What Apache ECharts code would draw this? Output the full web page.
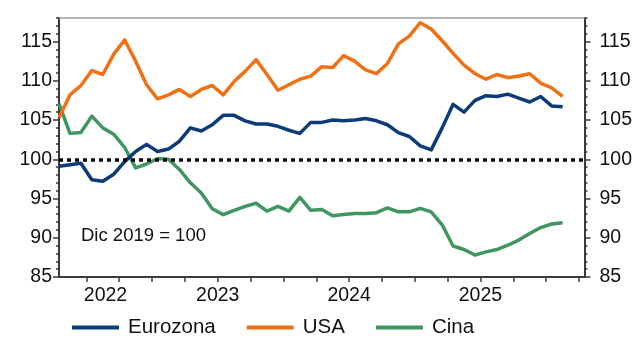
<!DOCTYPE html>
<html>
<head>
<meta charset="utf-8">
<script src="https://cdn.jsdelivr.net/npm/echarts@6/dist/echarts.min.js"></script>
<style>
  html, body { margin: 0; padding: 0; background: #ffffff; }
  #chart { width: 635px; height: 338px; }
</style>
</head>
<body>
<div id="chart"></div>
<script>
// Monthly index values, base Dec 2019 = 100
const months = [
  '2022-04', '2022-05', '2022-06', '2022-07', '2022-08', '2022-09', '2022-10', '2022-11', '2022-12',
  '2023-01', '2023-02', '2023-03', '2023-04', '2023-05', '2023-06', '2023-07', '2023-08', '2023-09', '2023-10', '2023-11', '2023-12',
  '2024-01', '2024-02', '2024-03', '2024-04', '2024-05', '2024-06', '2024-07', '2024-08', '2024-09', '2024-10', '2024-11', '2024-12',
  '2025-01', '2025-02', '2025-03', '2025-04', '2025-05', '2025-06', '2025-07', '2025-08', '2025-09', '2025-10', '2025-11', '2025-12',
  '2026-01', '2026-02'
];

const eurozona = [
  99.1, 99.3, 99.5, 97.4, 97.2, 98.1, 99.7, 101.0, 101.9, 101.0,
  101.3, 102.3, 104.0, 103.6, 104.4, 105.6, 105.6, 104.9, 104.5, 104.5,
  104.2, 103.7, 103.3, 104.7, 104.7, 105.0, 104.9, 105.0, 105.2, 104.9,
  104.4, 103.4, 102.9, 101.7, 101.2, 104.0, 107.0, 106.0, 107.5, 108.1,
  108.0, 108.3, 107.8, 107.3, 108.0, 106.8, 106.7
];

const usa = [
  105.3, 108.2, 109.4, 111.3, 110.8, 113.4, 115.2, 112.5, 109.5, 107.7,
  108.2, 108.9, 108.0, 108.9, 109.4, 108.2, 109.9, 111.2, 112.7, 110.8,
  108.8, 109.5, 110.2, 110.6, 111.8, 111.7, 113.2, 112.5, 111.4, 110.9,
  112.2, 114.7, 115.7, 117.4, 116.6, 115.1, 113.5, 112.0, 110.9, 110.2,
  110.8, 110.4, 110.6, 110.9, 109.7, 109.1, 108.0
];

const cina = [
  107.1, 103.3, 103.4, 105.5, 104.0, 103.2, 101.5, 98.9, 99.4, 100.1,
  100.0, 98.7, 97.0, 95.7, 93.7, 92.95, 93.5, 94.0, 94.4, 93.4,
  94.0, 93.4, 95.15, 93.5, 93.6, 92.8, 92.95, 93.1, 93.1, 93.2,
  93.8, 93.3, 93.3, 93.75, 93.3, 91.65, 88.95, 88.5, 87.8, 88.2,
  88.5, 89.05, 89.7, 90.55, 91.3, 91.75, 91.9
];

const yearLabels = ['2022', '2023', '2024', '2025'];
const yTicks = [85, 90, 95, 100, 105, 110, 115];
const baseValue = 100;
const baseNote = 'Dic 2019 = 100';

// Axis extents (months on x, index points on y)
const xMax = 48;
const yMin = 85;
const yMax = 118;

const FONT = 'Liberation Sans, Arial, sans-serif';
const TEXT = '#111111';
const AXIS = '#3a3a3a';
const COLORS = { eurozona: '#0b3b78', usa: '#f07113', cina: '#3f9660' };

// Quarter boundaries sit halfway between the last month of one quarter and the first of the next
const quarterTicks = [];
const firstQ = months.findIndex(m => ['01', '04', '07', '10'].includes(m.slice(5)));
for (let t = firstQ - 0.5; t <= xMax; t += 3) quarterTicks.push(t);

// Each year label is centred on the visible part of its year
const yearCenters = yearLabels.map(y => {
  const idx = months.map((m, i) => (m.slice(0, 4) === y ? i : -1)).filter(i => i >= 0);
  const start = Math.max(idx[0] - 0.5, 0);
  const end = Math.min(idx[idx.length - 1] + 0.5, xMax);
  return (start + end) / 2;
});
const yearAt = {};
yearCenters.forEach((c, k) => { yearAt[c.toFixed(3)] = yearLabels[k]; });

const toPoints = vals => vals.map((v, i) => [i, v]);

function yAxes(position, labelMargin) {
  return [
    {
      type: 'value', position, min: yMin, max: yMax, interval: 1,
      axisLine: { show: true, lineStyle: { color: AXIS, width: 2 } },
      axisTick: { show: true, length: 3, lineStyle: { color: AXIS, width: 1.5 } },
      axisLabel: { show: true, customValues: yTicks, margin: labelMargin, fontSize: 19.5, color: TEXT, fontFamily: FONT },
      splitLine: { show: false }
    },
    {
      type: 'value', position, min: yMin, max: yMax,
      axisLine: { show: false },
      axisTick: { show: true, customValues: yTicks, length: 6, lineStyle: { color: AXIS, width: 1.5 } },
      axisLabel: { show: false },
      splitLine: { show: false }
    }
  ];
}

const lineSeries = (name, data, color) => ({
  name, type: 'line', data: toPoints(data),
  symbol: 'none', showSymbol: false,
  lineStyle: { width: 3.5, color, join: 'round' },
  itemStyle: { color },
  animation: false
});

const chart = echarts.init(document.getElementById('chart'), null, { renderer: 'canvas' });

const cinaSeries = lineSeries('Cina', cina, COLORS.cina);
const usaSeries = lineSeries('USA', usa, COLORS.usa);
const euroSeries = lineSeries('Eurozona', eurozona, COLORS.eurozona);
euroSeries.markLine = {
  silent: true, symbol: 'none', animation: false,
  label: { show: false },
  lineStyle: { color: '#000000', width: 3.5, type: [4, 4] },
  data: [{ yAxis: baseValue }]
};

chart.setOption({
  animation: false,
  backgroundColor: '#ffffff',
  grid: { left: 59, right: 48, top: 18, bottom: 61, containLabel: false },
  xAxis: [
    {
      type: 'value', position: 'bottom', min: 0, max: xMax,
      axisLine: { show: true, lineStyle: { color: AXIS, width: 2 } },
      axisTick: { show: true, customValues: quarterTicks, length: 5, lineStyle: { color: AXIS, width: 1.5 } },
      axisLabel: {
        show: true, customValues: yearCenters, margin: 9,
        fontSize: 19.5, color: TEXT, fontFamily: FONT,
        formatter: v => yearAt[Number(v).toFixed(3)] || ''
      },
      splitLine: { show: false }
    },
    {
      type: 'value', position: 'top', min: 0, max: xMax,
      axisLine: { show: true, lineStyle: { color: '#9a9a9a', width: 1.5 } },
      axisTick: { show: false }, axisLabel: { show: false }, splitLine: { show: false }
    }
  ],
  yAxis: [...yAxes('left', 7), ...yAxes('right', 15)],
  legend: {
    data: ['Eurozona', 'USA', 'Cina'],
    left: 67, top: 312,
    icon: 'rect', itemWidth: 47, itemHeight: 4, itemGap: 31,
    textStyle: { fontSize: 20.5, color: TEXT, fontFamily: FONT, padding: [0, 0, 0, 4] }
  },
  graphic: [{
    type: 'text', left: 81, top: 226,
    style: { text: baseNote, fontSize: 18.5, fill: TEXT, fontFamily: FONT }
  }],
  series: [cinaSeries, usaSeries, euroSeries]
});
</script>
</body>
</html>
